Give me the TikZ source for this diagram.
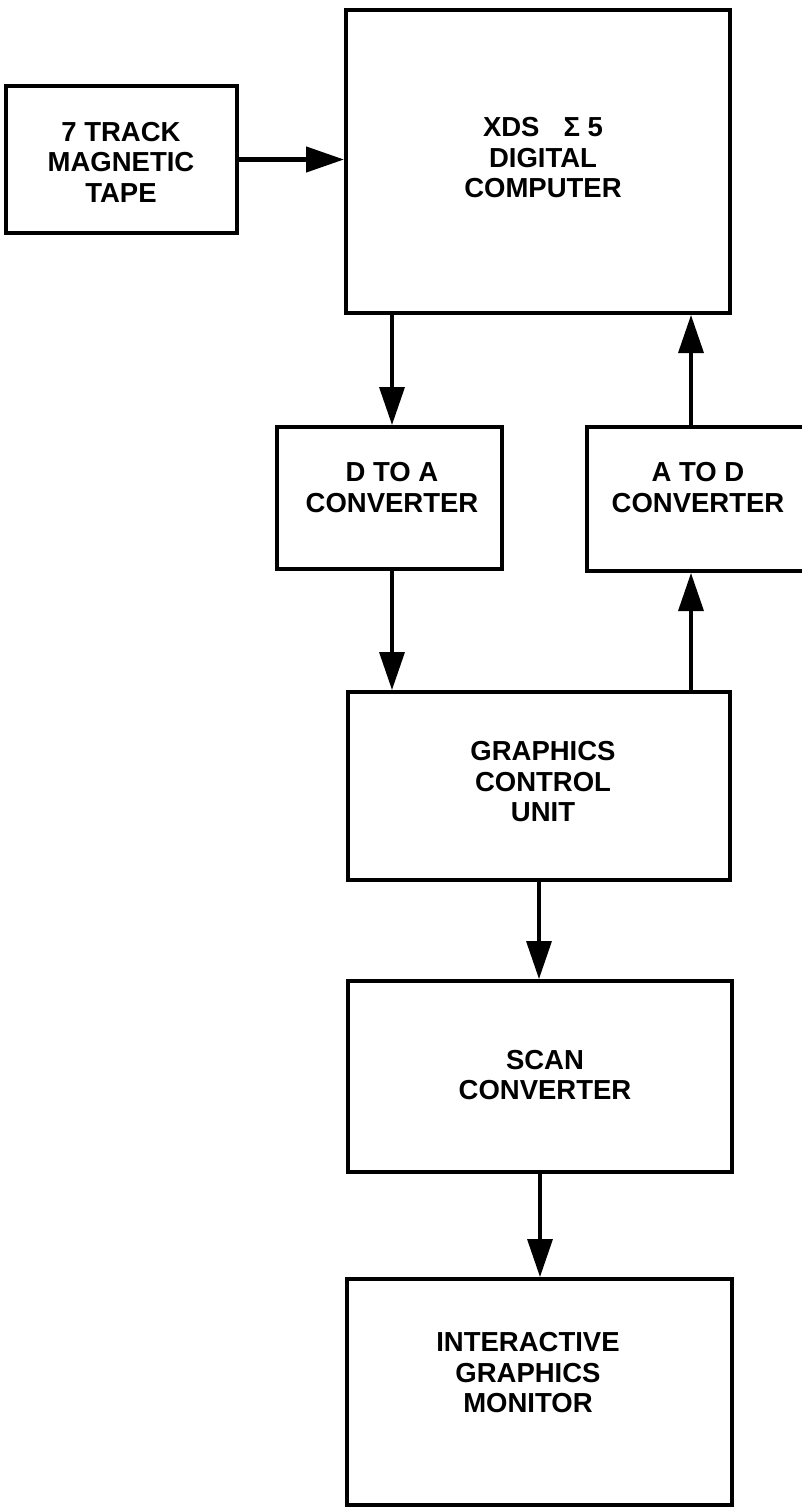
\documentclass[tikz,border=0pt]{standalone}
\usepackage{fontspec}
\setmainfont{Liberation Sans}
\usetikzlibrary{arrows.meta}

\begin{document}
\begin{tikzpicture}[x=1pt,y=-1pt,
        blok/.style={draw,line width=4pt,rectangle,inner sep=0pt},
        txt/.style={align=center,inner sep=0pt,font=\bfseries\fontsize{27.5}{30.5}\selectfont},
        flow/.style={line width=3.5pt,-{Triangle[length=38pt,width=25pt]}}]
        \useasboundingbox (0,0) rectangle (801,1510);

        \node[blok,minimum width=231pt,minimum height=147pt] (tape) at (121.5,159.5) {};
        \node[blok,minimum width=384pt,minimum height=303pt] (comp) at (538,161.5) {};
        \node[blok,minimum width=225pt,minimum height=142pt] (dtoa) at (389.5,498) {};
        \node[blok,minimum width=222pt,minimum height=144pt] (atod) at (698,499) {};
        \node[blok,minimum width=382pt,minimum height=188pt] (gcu) at (539,786) {};
        \node[blok,minimum width=384pt,minimum height=191pt] (scan) at (540,1076.5) {};
        \node[blok,minimum width=385pt,minimum height=226pt] (mon) at (539.5,1392) {};

        \node[txt] (tape-txt) at (121,162) {7 TRACK\\MAGNETIC\\TAPE};
        \node[txt] (comp-txt) at (543,158) {XDS\hspace{24pt}Σ 5\\DIGITAL\\COMPUTER};
        \node[txt] (dtoa-txt) at (392,487.5) {D TO A\\CONVERTER};
        \node[txt] (atod-txt) at (698,487.5) {A TO D\\CONVERTER};
        \node[txt] (gcu-txt) at (543,782) {GRAPHICS\\CONTROL\\UNIT};
        \node[txt] (scan-txt) at (545,1075) {SCAN\\CONVERTER};
        \node[txt] (mon-txt) at (528,1373) {INTERACTIVE\\GRAPHICS\\MONITOR};

        \draw[flow,line width=4.5pt] (tape.east) -- (tape.east -| comp.west);
        \draw[flow] ([xshift=2.5pt]dtoa.north |- comp.south) -- ([xshift=2.5pt]dtoa.north);
        \draw[flow] ([xshift=2.5pt]dtoa.south) -- ([xshift=2.5pt]dtoa.south |- gcu.north);
        \draw[flow] ([xshift=-7pt]atod.south |- gcu.north) -- ([xshift=-7pt]atod.south);
        \draw[flow] ([xshift=-7pt]atod.north) -- ([xshift=-7pt]atod.north |- comp.south);
        \draw[flow] (gcu.south) -- (gcu.south |- scan.north);
        \draw[flow] (scan.south) -- (scan.south |- mon.north);
    \end{tikzpicture}
\end{document}
